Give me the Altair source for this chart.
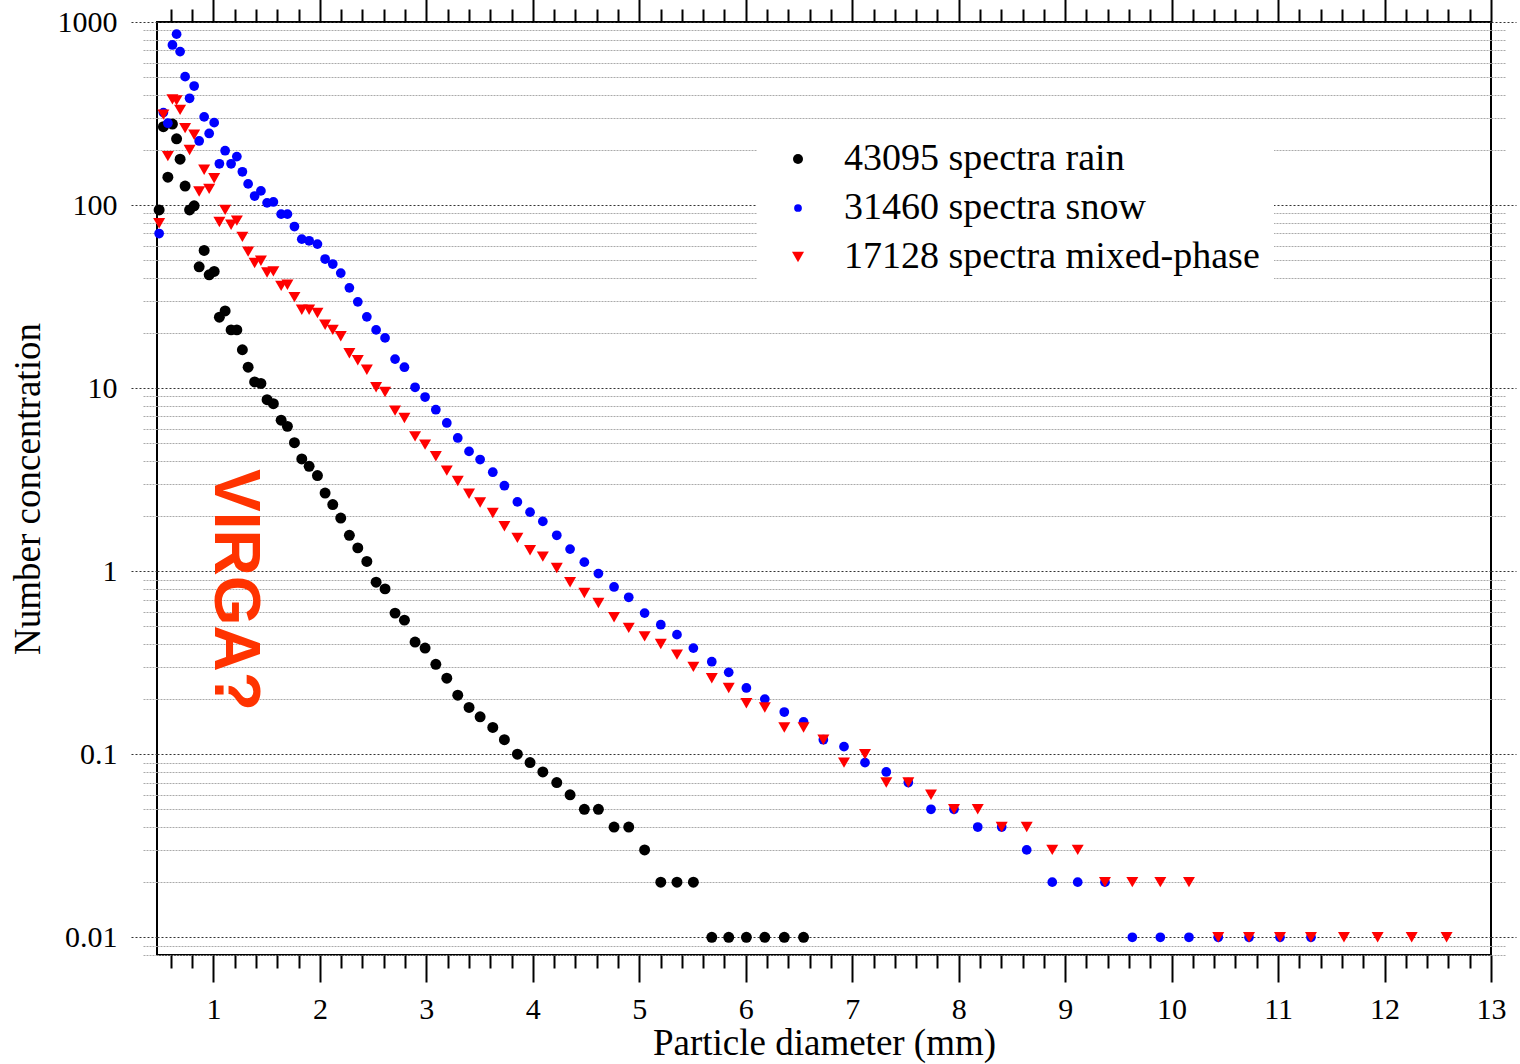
import altair as alt
import pandas as pd

# Particle diameter of each size class (mm)
diameter = [
    0.490, 0.530, 0.572, 0.615, 0.654, 0.687, 0.734, 0.776, 0.819, 0.866,
    0.913, 0.960, 1.007, 1.056, 1.110, 1.166, 1.220, 1.272, 1.326, 1.387,
    1.446, 1.504, 1.563, 1.636, 1.695, 1.761, 1.830, 1.899, 1.977, 2.049,
    2.121, 2.196, 2.277, 2.356, 2.441, 2.528, 2.612, 2.706, 2.794, 2.894,
    2.988, 3.089, 3.192, 3.295, 3.401, 3.505, 3.624, 3.733, 3.855, 3.974,
    4.094, 4.225, 4.350, 4.484, 4.616, 4.763, 4.901, 5.050, 5.202, 5.354,
    5.508, 5.681, 5.840, 6.006, 6.179, 6.362, 6.543, 6.729, 6.923, 7.120,
    7.320, 7.527, 7.740, 7.956, 8.179, 8.404, 8.639, 8.879, 9.118, 9.374,
    9.631, 9.894, 10.163, 10.438, 10.727, 11.018, 11.309, 11.619, 11.935, 12.255,
    12.583,
]

# Mean number concentration per size class, one list per precipitation type
rain = [
    94, 268, 142, 277, 230, 178, 127, 94, 99, 46,
    56.5, 41.6, 43.4, 24.4, 26.4, 20.8, 20.8, 16.2, 13.0, 10.8,
    10.6, 8.64, 8.22, 6.68, 6.18, 5.03, 4.10, 3.74, 3.33, 2.67,
    2.31, 1.95, 1.57, 1.34, 1.13, 0.87, 0.80, 0.59, 0.54, 0.41,
    0.38, 0.31, 0.26, 0.21, 0.18, 0.16, 0.14, 0.12, 0.10, 0.09,
    0.08, 0.07, 0.06, 0.05, 0.05, 0.04, 0.04, 0.03, 0.02, 0.02,
    0.02, 0.01, 0.01, 0.01, 0.01, 0.01, 0.01,
]
snow = [
    69.9, 320, 280, 749, 858, 689, 503, 383, 447, 224,
    303, 246, 282, 168, 198, 168, 184, 152, 130.5, 112,
    119.5, 102.8, 104, 89.2, 89.2, 76.3, 65.1, 63.8, 61.2, 50.7,
    47.6, 42.5, 35.3, 29.6, 24.5, 20.8, 18.8, 14.4, 13.0, 10.1,
    8.94, 7.62, 6.45, 5.34, 4.51, 4.07, 3.47, 2.93, 2.39, 2.10,
    1.87, 1.57, 1.32, 1.12, 0.97, 0.82, 0.72, 0.59, 0.51, 0.45,
    0.38, 0.32, 0.28, 0.23, 0.20, 0.17, 0.15, 0.12, 0.11, 0.09,
    0.08, 0.07, 0.05, 0.05, 0.04, 0.04, 0.03, 0.02, 0.02, 0.02,
    0.01, 0.01, 0.01, 0.01, 0.01, 0.01, 0.01,
]
mixed = [
    79.6, 312, 185, 378, 373, 331, 263, 200, 242, 118.5,
    156, 122.6, 140, 80.8, 94.1, 78, 82.2, 67, 55.7, 48.2,
    49.6, 42.8, 43.4, 36.2, 36.7, 31.4, 26.8, 26.8, 25.7, 22.2,
    20.8, 19.2, 15.5, 14.2, 12.6, 10.1, 9.52, 7.53, 6.87, 5.45,
    4.91, 4.24, 3.54, 3.11, 2.65, 2.37, 2.08, 1.76, 1.52, 1.30,
    1.20, 1.04, 0.87, 0.76, 0.67, 0.56, 0.49, 0.44, 0.40, 0.35,
    0.30, 0.26, 0.23, 0.19, 0.18, 0.14, 0.14, 0.12, 0.09, 0.10,
    0.07, 0.07, 0.06, 0.05, 0.05, 0.04, 0.04, 0.03, 0.03, 0.02,
    0.02, 0.02, 0.02, 0.01, 0.01, 0.01, 0.01, 0.01, 0.01, 0.01,
    0.01,
]

series_names = ["43095 spectra rain", "31460 spectra snow", "17128 spectra mixed-phase"]
series_values = [rain, snow, mixed]
series_colors = ["#000000", "#0000ff", "#ff0000"]
series_shapes = ["circle", "circle", "triangle-down"]
series_sizes = [120, 95, 144]

x_major = list(range(1, 14))
x_minor = [round(i * 0.2, 1) for i in range(3, 65) if i % 5 != 0]
y_major = [0.01, 0.1, 1, 10, 100, 1000]
y_minor = [
    round(m * 10.0 ** k, 6)
    for k in range(-3, 3)
    for m in range(2, 10)
    if m * 10.0 ** k >= 0.008
]

annotation_text = "VIRGA?"
annotation_at = (1.19, 0.79)

rows = []
for name, values, msize in zip(series_names, series_values, series_sizes):
    for d, v in zip(diameter, values):
        rows.append({"diameter": d, "conc": v, "series": name, "msize": msize})
df = pd.DataFrame(rows)

SERIF = "Liberation Serif"
MAJOR_GRID = "#333333"
MINOR_GRID = "#aaaaaa"

xs = alt.Scale(domain=[0.47, 13], nice=False, zero=False)
ys = alt.Scale(type="log", domain=[0.008, 1000], nice=False)

# Legend symbols: same shapes and colours, slightly smaller circles
legend_sizes = [100, 60, 144]
legend_size_expr = (
    "datum.value === '" + series_names[0] + "' ? " + str(legend_sizes[0])
    + " : datum.value === '" + series_names[1] + "' ? " + str(legend_sizes[1])
    + " : " + str(legend_sizes[2])
)

legend = alt.Legend(
    title=None,
    orient="none",
    legendX=600,
    legendY=104,
    labelFont=SERIF,
    labelFontSize=38,
    labelColor="black",
    labelLimit=900,
    padding=14,
    rowPadding=11,
    symbolSize=alt.ExprRef(expr=legend_size_expr),
    symbolStrokeWidth=0,
    symbolOffset=8,
    labelOffset=27,
    fillColor="white",
)

base = alt.Chart(df)

points = base.mark_point(filled=True, opacity=1, strokeWidth=0).encode(
    x=alt.X(
        "diameter:Q",
        scale=xs,
        axis=alt.Axis(
            orient="bottom", values=x_major, format="d",
            tickSize=27, tickWidth=2, tickColor="black",
            domain=False, grid=False,
            labelFont=SERIF, labelFontSize=30, labelColor="black",
            labelPadding=12, labelFlush=False, labelOverlap=False,
            title="Particle diameter (mm)", titleFont=SERIF, titleFontSize=37,
            titleFontWeight="normal", titleColor="black",
            titleBaseline="middle", titleY=88,
        ),
    ),
    y=alt.Y(
        "conc:Q",
        scale=ys,
        axis=alt.Axis(
            orient="left", values=y_major, format="~g",
            tickSize=27, tickWidth=1, tickColor=MAJOR_GRID, tickDash=[2, 2],
            grid=True, gridColor=MAJOR_GRID, gridDash=[2, 2], gridWidth=1,
            domain=False,
            labelFont=SERIF, labelFontSize=30, labelColor="black",
            labelPadding=13, labelFlush=False, labelOverlap=False,
            title="Number concentration", titleFont=SERIF, titleFontSize=37,
            titleFontWeight="normal", titleColor="black",
            titleBaseline="middle", titleX=-129,
        ),
    ),
    color=alt.Color("series:N", scale=alt.Scale(domain=series_names, range=series_colors), legend=legend),
    shape=alt.Shape("series:N", scale=alt.Scale(domain=series_names, range=series_shapes), legend=legend),
    size=alt.Size("msize:Q", scale=None, legend=None),
)


def tick_layer(x_axis, y_axis):
    return base.mark_point(opacity=0).encode(
        x=alt.X("diameter:Q", scale=xs, axis=x_axis),
        y=alt.Y("conc:Q", scale=ys, axis=y_axis),
    )


no_label = dict(labels=False, domain=False, title=None, grid=False)

bottom_minor = tick_layer(
    alt.Axis(orient="bottom", values=x_minor, tickSize=13, tickWidth=2, tickColor="black", **no_label),
    None,
)
top_minor = tick_layer(
    alt.Axis(orient="top", values=x_minor, tickSize=13, tickWidth=2, tickColor="black", **no_label),
    None,
)
top_major = tick_layer(
    alt.Axis(orient="top", values=x_major, tickSize=27, tickWidth=2, tickColor="black", **no_label),
    None,
)
left_minor = tick_layer(
    None,
    alt.Axis(
        orient="left", values=y_minor, tickSize=14, tickWidth=1, tickColor=MINOR_GRID, tickDash=[2, 1],
        labels=False, domain=False, title=None,
        grid=True, gridColor=MINOR_GRID, gridDash=[2, 1], gridWidth=1,
    ),
)
right_major = tick_layer(
    None,
    alt.Axis(orient="right", values=y_major, tickSize=25, tickWidth=1, tickColor=MAJOR_GRID, tickDash=[2, 2], **no_label),
)
right_minor = tick_layer(
    None,
    alt.Axis(orient="right", values=y_minor, tickSize=14, tickWidth=1, tickColor=MINOR_GRID, tickDash=[2, 1], **no_label),
)

annotation = alt.Chart(
    pd.DataFrame({"diameter": [annotation_at[0]], "conc": [annotation_at[1]], "label": [annotation_text]})
).mark_text(
    angle=90, font="Liberation Sans", fontWeight="bold", fontSize=64,
    color="#ff3300", align="center", baseline="middle",
).encode(
    x=alt.X("diameter:Q", scale=xs, axis=None),
    y=alt.Y("conc:Q", scale=ys, axis=None),
    text="label:N",
)

chart = (
    alt.layer(left_minor, right_major, right_minor, bottom_minor, top_minor, top_major, points, annotation)
    .resolve_scale(x="shared", y="shared")
    .resolve_axis(x="independent", y="independent")
    .properties(
        width=1334,
        height=933,
        autosize=alt.AutoSizeParams(type="none"),
        padding={"left": 157, "top": 22, "right": 29, "bottom": 109},
        background="white",
    )
    .configure_view(stroke="black", strokeWidth=2)
)

chart.save("out.html", embed_options={"renderer": "svg", "actions": False})
